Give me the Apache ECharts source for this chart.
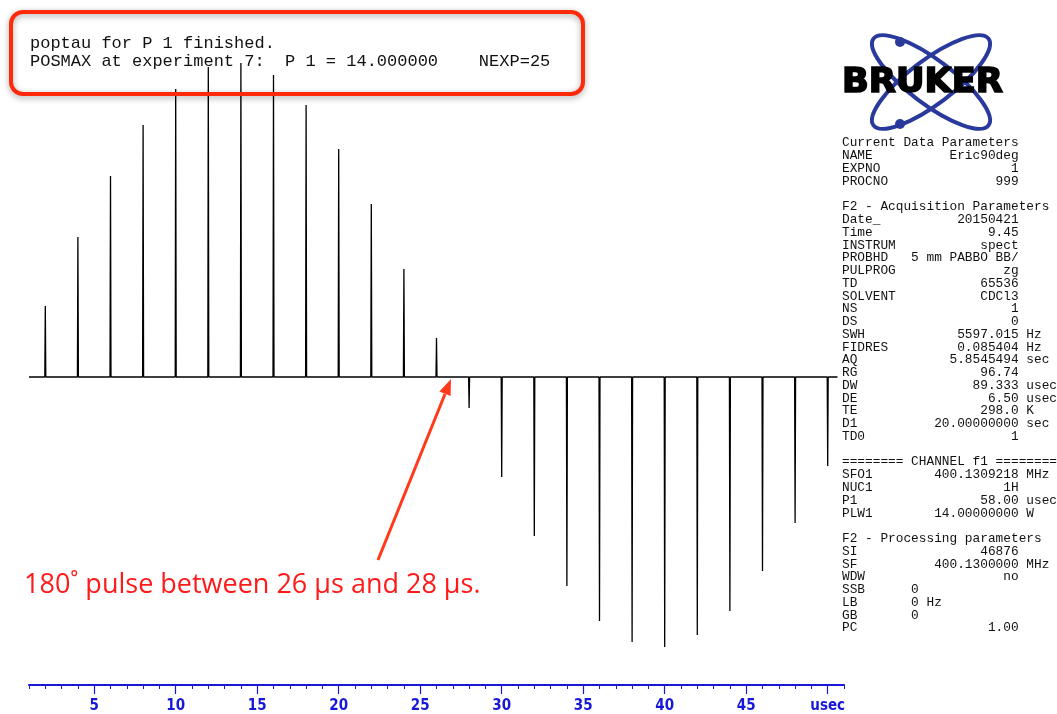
<!DOCTYPE html>
<html>
<head>
<meta charset="utf-8">
<script src="https://cdn.jsdelivr.net/npm/echarts@6/dist/echarts.min.js"></script>
<style>
	html, body { margin: 0; padding: 0; background: #fff; }
	#chart { width: 1057px; height: 714px; }
</style>
</head>
<body>
<div id="chart"></div>
<script>
var tau = [2, 4, 6, 8, 10, 12, 14, 16, 18, 20, 22, 24, 26, 28, 30, 32, 34, 36, 38, 40, 42, 44, 46, 48, 50];
var intensity = [71, 140, 201, 252, 288, 310, 314, 302, 272, 228, 173, 108, 39, -31, -100, -159, -209, -244, -265, -270, -258, -234, -194, -146, -89];
var majorTicks = [5, 10, 15, 20, 25, 30, 35, 40, 45, 50];

var boxLines = [
	'poptau for P 1 finished.',
	'POSMAX at experiment 7:  P 1 = 14.000000    NEXP=25'
];
var paramLines = [
	'Current Data Parameters',
	'NAME          Eric90deg',
	'EXPNO                 1',
	'PROCNO              999',
	'',
	'F2 - Acquisition Parameters',
	'Date_          20150421',
	'Time               9.45',
	'INSTRUM           spect',
	'PROBHD   5 mm PABBO BB/',
	'PULPROG              zg',
	'TD                65536',
	'SOLVENT           CDCl3',
	'NS                    1',
	'DS                    0',
	'SWH            5597.015 Hz',
	'FIDRES         0.085404 Hz',
	'AQ            5.8545494 sec',
	'RG                96.74',
	'DW               89.333 usec',
	'DE                 6.50 usec',
	'TE                298.0 K',
	'D1          20.00000000 sec',
	'TD0                   1',
	'',
	'======== CHANNEL f1 ========',
	'SFO1        400.1309218 MHz',
	'NUC1                 1H',
	'P1                58.00 usec',
	'PLW1        14.00000000 W',
	'',
	'F2 - Processing parameters',
	'SI                46876',
	'SF          400.1300000 MHz',
	'WDW                  no',
	'SSB      0',
	'LB       0 Hz',
	'GB       0',
	'PC                 1.00'
];
var note = '180˚ pulse between 26 μs and 28 μs.';

// spectrum trace: flat baseline with a narrow spike at every tau
var trace = [[1, 0]];
for (var i = 0; i < tau.length; i++) {
	trace.push([tau[i] - 0.03, 0]);
	trace.push([tau[i], intensity[i]]);
	trace.push([tau[i] + 0.03, 0]);
}
trace.push([50.6, 0]);

var axisBlue = '#1818d8',
	gridBox = { left: 29, right: 213, top: 47, bottom: 29 };

var myChart = echarts.init(document.getElementById('chart'));
myChart.setOption({
	backgroundColor: '#fff',
	animation: false,
	grid: [
		Object.assign({}, gridBox),
		Object.assign({}, gridBox)
	],
	xAxis: [{
		gridIndex: 0,
		type: 'value',
		min: 1,
		max: 51,
		interval: 1,
		axisLine: { show: true, onZero: false, lineStyle: { color: axisBlue, width: 2 } },
		axisTick: { show: true, length: 4, lineStyle: { color: axisBlue, width: 1 } },
		axisLabel: { show: false },
		splitLine: { show: false }
	}, {
		gridIndex: 1,
		type: 'value',
		min: 1,
		max: 51,
		axisLine: { show: false, onZero: false },
		axisTick: { show: true, length: 10, customValues: majorTicks, lineStyle: { color: axisBlue, width: 1.2 } },
		axisLabel: {
			show: true,
			customValues: majorTicks,
			margin: 15,
			color: axisBlue,
			fontSize: 15,
			fontWeight: 'bold',
			fontFamily: "'Liberation Sans Narrow', 'DejaVu Sans Condensed', sans-serif",
			formatter: function (v) { return v === 50 ? 'usec' : String(v); }
		},
		splitLine: { show: false }
	}],
	yAxis: [
		{ gridIndex: 0, type: 'value', min: -308, max: 330, show: false, splitLine: { show: false } },
		{ gridIndex: 1, type: 'value', min: -308, max: 330, show: false, splitLine: { show: false } }
	],
	series: [{
		type: 'line',
		xAxisIndex: 0,
		yAxisIndex: 0,
		data: trace,
		showSymbol: false,
		symbol: 'none',
		lineStyle: { color: '#000', width: 1.3 },
		silent: true
	}],
	graphic: [
		// poptau message box
		{
			type: 'rect',
			shape: { x: 11, y: 12, width: 572, height: 82, r: 12 },
			style: { fill: 'none', stroke: '#ff2a0a', lineWidth: 4, shadowBlur: 6, shadowColor: 'rgba(0,0,0,0.35)', shadowOffsetY: 2 },
			z: 10
		},
		{
			type: 'text',
			left: 30,
			top: 34,
			style: {
				text: boxLines.join('\n'),
				font: "17px 'Liberation Mono', 'DejaVu Sans Mono', monospace",
				lineHeight: 18,
				fill: '#111'
			},
			z: 11
		},
		// red annotation + arrow
		{
			type: 'text',
			left: 24,
			top: 572,
			style: {
				text: note,
				font: "27px 'Open Sans', 'Noto Sans', sans-serif",
				fill: '#ff1a1a'
			},
			z: 11
		},
		{
			type: 'line',
			shape: { x1: 378, y1: 560, x2: 445, y2: 394 },
			style: { stroke: '#ff3a1a', lineWidth: 3 },
			z: 11
		},
		{
			type: 'polygon',
			shape: { points: [[451, 379], [450.6, 396.1], [439.4, 391.5]] },
			style: { fill: '#ff3a1a' },
			z: 11
		},
		// Bruker logo
		{
			type: 'ellipse',
			x: 931, y: 82, rotation: 37 * Math.PI / 180,
			shape: { cx: 0, cy: 0, rx: 72, ry: 22 },
			style: { fill: 'none', stroke: '#2a3a9c', lineWidth: 4 },
			z: 5
		},
		{
			type: 'ellipse',
			x: 931, y: 82, rotation: -37 * Math.PI / 180,
			shape: { cx: 0, cy: 0, rx: 72, ry: 22 },
			style: { fill: 'none', stroke: '#2a3a9c', lineWidth: 4 },
			z: 5
		},
		{ type: 'circle', shape: { cx: 900, cy: 42, r: 5 }, style: { fill: '#2a3a9c' }, z: 6 },
		{ type: 'circle', shape: { cx: 900, cy: 124, r: 5 }, style: { fill: '#2a3a9c' }, z: 6 },
		{
			type: 'text',
			x: 842, y: 83,
			scaleX: 1.1,
			scaleY: 1.05,
			style: {
				text: 'BRUKER',
				font: "900 32px 'DejaVu Sans', sans-serif",
				fill: '#000',
				verticalAlign: 'middle',
				stroke: '#000',
				lineWidth: 1.6
			},
			z: 7
		},
		// parameter listing
		{
			type: 'text',
			left: 842,
			top: 136.6,
			style: {
				text: paramLines.join('\n'),
				font: "12.8px 'Liberation Mono', 'DejaVu Sans Mono', monospace",
				lineHeight: 12.76,
				fill: '#111'
			},
			z: 11
		}
	]
});
</script>
</body>
</html>
